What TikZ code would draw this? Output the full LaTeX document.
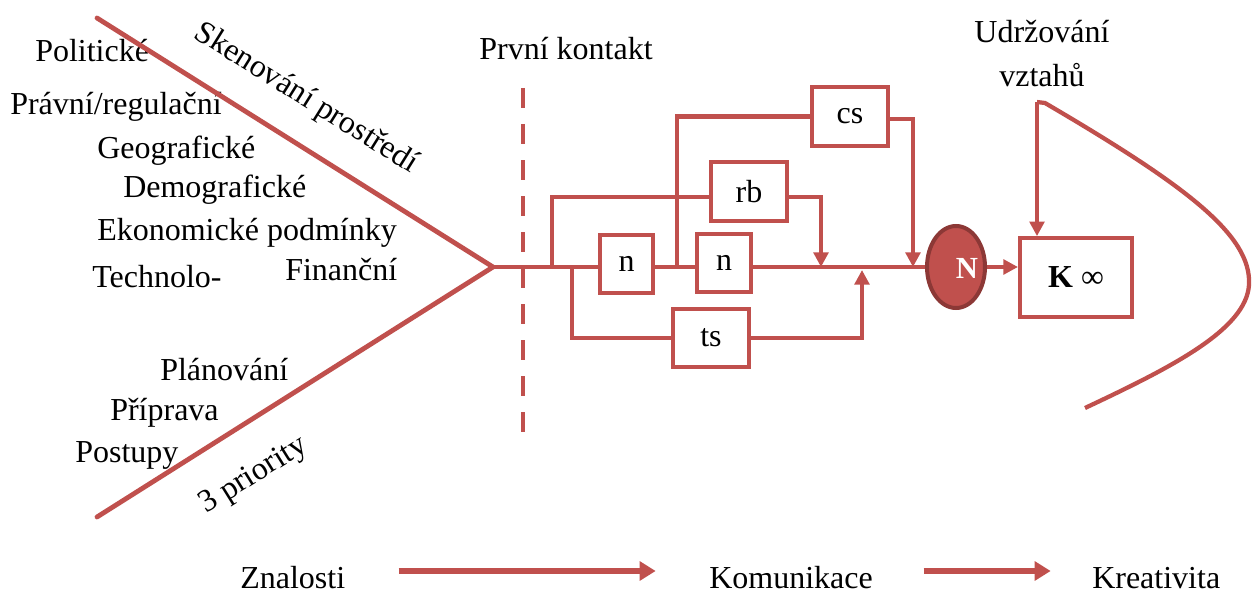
\documentclass[tikz,border=0pt]{standalone}
\usepackage{fontspec}
\setmainfont{Liberation Serif}
\usetikzlibrary{arrows.meta,shapes.geometric}
\definecolor{brick}{RGB}{192,80,77}
\definecolor{brickdark}{RGB}{140,56,54}
\begin{document}
\begin{tikzpicture}[x=0.75pt,y=-0.75pt,
  font=\fontsize{24}{28}\selectfont,
  wire/.style={draw=brick, line width=3.2pt},
  fish/.style={draw=brick, line width=3.6pt, line cap=round},
  tip/.style={-{Triangle[length=11pt,width=11pt]}},
  bigtip/.style={-{Triangle[length=12pt,width=14pt]}},
  box/.style={draw=brick, line width=3pt, fill=white, inner sep=0pt,
    minimum width=57pt, minimum height=44pt},
  smallbox/.style={box, minimum width=40pt},
  lbl/.style={anchor=base west, inner sep=0pt},
  clbl/.style={anchor=base, inner sep=0pt}]
\useasboundingbox (0,0) rectangle (1254,592);

% environment factors
\node[lbl] (pol) at (35,62) {Politické};
\node[lbl] (prav) at (10,115) {Právní/regulační};
\node[lbl] (geo) at (97,158) {Geografické};
\node[lbl] (dem) at (123,197) {Demografické};
\node[lbl] (eko) at (97,240) {Ekonomické podmínky};
\node[lbl] (tech) at (92,287) {Technolo-};
\node[lbl] (fin) at (285,280) {Finanční};
% priorities
\node[lbl] (plan) at (160,380) {Plánování};
\node[lbl] (prip) at (110,420) {Příprava};
\node[lbl] (post) at (75,462) {Postupy};

% the two branches of the fork
\coordinate (fork) at (493,267);
\coordinate (ftop) at (97,18);
\coordinate (fbot) at (97,517);
\draw[fish] (ftop) -- (fork) -- (fbot);
\node[rotate=-32, inner sep=0pt] (sken) at (306,99) {Skenování prostředí};
\node[rotate=32, inner sep=0pt] (prio) at (254,476) {3 priority};

% first contact divider
\node[clbl] (prvni) at (566,60) {První kontakt};
\coordinate (dtop) at (523,88);
\coordinate (dbot) at (523,432);
\draw[brick, line width=3.5pt, dash pattern=on 15pt off 12pt] (dtop) -- (dbot);

% process boxes
\node[smallbox] (n1) at (626.5,264) {n};
\node[smallbox] (n2) at (724,263) {n};
\node[box] (rb) at (749,191.5) {rb};
\node[box] (cs) at (850,116.5) {cs};
\node[box] (ts) at (711,338) {ts};
\node[ellipse, draw=brickdark, fill=brick, line width=3pt, inner sep=0pt,
  minimum width=43.5pt, minimum height=61.5pt] (N) at (956,267) {};
\node[text=white, font=\fontsize{23}{26}\selectfont\bfseries, inner sep=0pt] (Nl) at (967,268) {N};
\node[box, minimum width=84pt, minimum height=59pt] (K) at (1076,277.5)
  {\textbf{K} ∞};

% junction points on the main line
\coordinate (j1) at (552,267);
\coordinate (j3) at (572,267);
\coordinate (j2) at (677,267);
\coordinate (m1) at (821,267);
\coordinate (m3) at (862,270);
\coordinate (m2) at (913,267);

% main line, kept level through the boxes
\draw[wire] (fork) -- (fork -| n1.west);
\draw[wire] (fork -| n1.east) -- (fork -| n2.west);
\draw[wire] (fork -| n2.east) -- (N.west);

% bypass loops
\draw[wire] (j1) |- ([yshift=-4pt]rb.west);
\draw[wire, tip] ([yshift=-4pt]rb.east) -| (m1);
\draw[wire] (j2) |- (cs.west);
\draw[wire, tip] ([yshift=-2pt]cs.east) -| (m2);
\draw[wire] (j3) |- (ts.west);
\draw[wire, tip] (ts.east) -| (m3);

% towards the customer
\draw[wire, tip] (N.east) -- (N.east -| K.west);

% relationship maintenance
\node[clbl] (udr) at (1042,43) {Udržování};
\node[clbl] (vzt) at (1042,87) {vztahů};
\coordinate (loop) at (1037,102);
\coordinate (lend) at (1085,408);
\draw[wire, tip] (loop) -- (loop |- K.north);
\draw[wire] (loop) -- (1045,103)
  .. controls (1185,185) and (1252,235) .. (1249,285)
  .. controls (1246,330) and (1170,368) .. (lend);

% bottom sequence
\node[lbl] (zna) at (240,588) {Znalosti};
\node[lbl] (kom) at (709,588) {Komunikace};
\node[lbl] (kre) at (1092,588) {Kreativita};
\coordinate (row) at (0,571);
\draw[brick, line width=4.5pt, bigtip]
  ([xshift=40pt]zna.east |- row) -- ([xshift=-40pt]kom.west |- row);
\draw[brick, line width=4.5pt, bigtip]
  ([xshift=38pt]kom.east |- row) -- ([xshift=-31pt]kre.west |- row);
\end{tikzpicture}
\end{document}
